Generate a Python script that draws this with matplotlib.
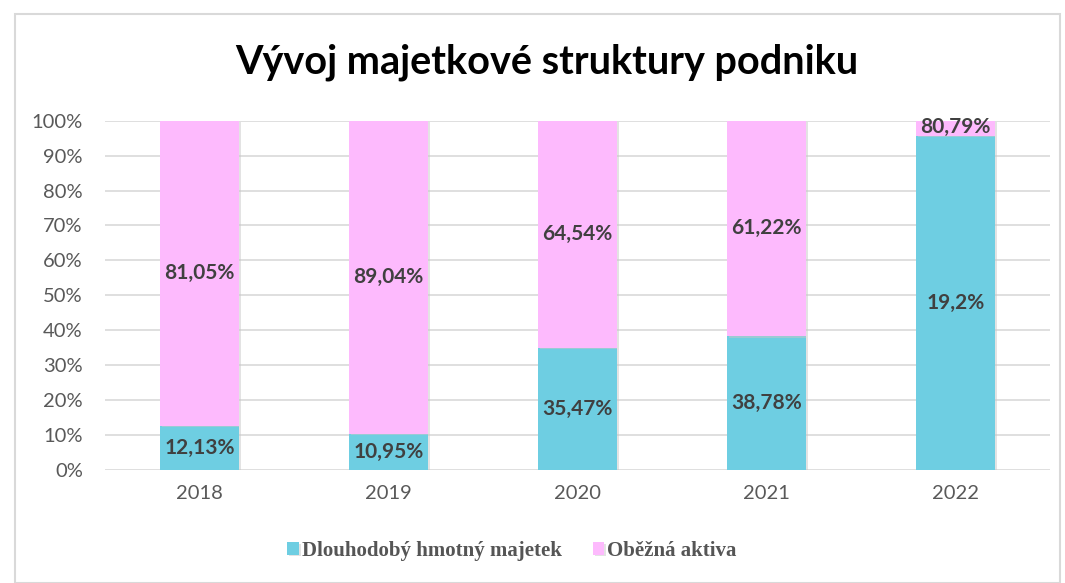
import matplotlib.pyplot as plt
import matplotlib.patheffects as pe
from matplotlib.patches import Rectangle

years = ['2018', '2019', '2020', '2021', '2022']
# bar shares as drawn (100 % stacked)
dhm_share = [12.6, 10.3, 35.0, 38.3, 95.6]
oa_share = [87.4, 89.7, 65.0, 61.7, 4.4]
# data labels as printed on the chart
dhm_labels = ['12,13%', '10,95%', '35,47%', '38,78%', '19,2%']
oa_labels = ['81,05%', '89,04%', '64,54%', '61,22%', '80,79%']

blue = '#6ECEE2'
pink = '#FDBAFD'
label_color = '#404040'

fig = plt.figure(figsize=(10.65, 5.83), dpi=100)
fig.patches.append(Rectangle((15 / 1065, 0), 1045 / 1065, 1 - 14 / 583,
                             transform=fig.transFigure, fill=False,
                             edgecolor='#D9D9D9', linewidth=1.5))
ax = fig.add_axes([105 / 1065, 1 - 470 / 583, 945 / 1065, 349.3 / 583])

x = range(len(years))
shadow = [pe.SimplePatchShadow(offset=(1.5, -1), shadow_rgbFace='#C8C8C8', alpha=0.5), pe.Normal()]
b1 = ax.bar(x, dhm_share, width=0.42, color=blue, label='Dlouhodobý hmotný majetek', zorder=3)
b2 = ax.bar(x, oa_share, width=0.42, bottom=dhm_share, color=pink, label='Oběžná aktiva', zorder=3)
for bars in (b1, b2):
    for p in bars:
        p.set_path_effects(shadow)

for i in x:
    ax.text(i, dhm_share[i] / 2, dhm_labels[i], ha='center', va='center',
            fontsize=15, fontweight='bold', color=label_color, family='Lato', zorder=4)
    ax.text(i, dhm_share[i] + oa_share[i] / 2 + (0.4 if i == 4 else 0), oa_labels[i],
            ha='center', va='center', fontsize=15, fontweight='bold',
            color=label_color, family='Lato', zorder=4)

ax.set_xlim(-0.5, 4.5)
ax.set_ylim(0, 100)
ax.set_yticks(range(0, 101, 10))
ax.set_yticklabels([f'{v}%' for v in range(0, 101, 10)])
ax.set_xticks(list(x))
ax.set_xticklabels(years)
ax.tick_params(axis='both', length=0, labelsize=14.5, labelcolor='#595959')
ax.tick_params(axis='y', pad=16)
ax.tick_params(axis='x', pad=11)
for lab in ax.get_xticklabels() + ax.get_yticklabels():
    lab.set_family('Lato')
ax.grid(axis='y', color='#D9D9D9', linewidth=1.2, zorder=0)
for s in ax.spines.values():
    s.set_visible(False)

fig.text(547 / 1065, 1 - 62 / 583, 'Vývoj majetkové struktury podniku', ha='center', va='center',
         fontsize=28.5, fontweight='bold', family='Lato', color='black')

fig.legend(loc='center', bbox_to_anchor=(512 / 1065, 1 - 551 / 583), ncol=2, frameon=False,
           prop={'family': 'Liberation Serif', 'weight': 'bold', 'size': 15},
           labelcolor='#555555', handlelength=0.55, handleheight=0.55,
           handletextpad=0.15, columnspacing=1.5)

plt.savefig('out.png', dpi=100)
